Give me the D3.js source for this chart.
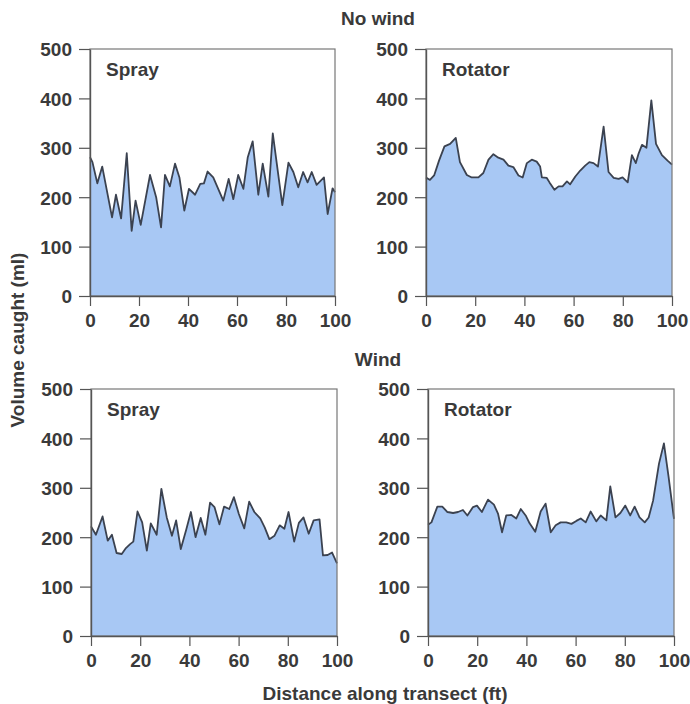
<!DOCTYPE html>
<html>
<head>
<meta charset="utf-8">
<script src="https://cdn.jsdelivr.net/npm/d3@7"></script>
<style>
  body { margin: 0; background: #fff; }
  text { font-family: "Liberation Sans", Arial, sans-serif; font-weight: bold; fill: #3a3a3a; }
</style>
</head>
<body>
<div class="chart"></div>
<script>
// data
const xTicks = [0, 20, 40, 60, 80, 100];
const yTicks = [0, 100, 200, 300, 400, 500];

const sprayNoWindX = [0, 1, 3, 5, 9, 10.6, 12.7, 15, 17, 18.6, 20.7, 24.5, 27, 29, 30.6, 32.6, 34.7, 36.5, 38.5, 40.4, 42.9, 45, 46.5, 48, 50.3, 54.4, 56.6, 58.5, 60.5, 62.6, 64.4, 66.4, 68.7, 70.5, 72.8, 74.6, 78.5, 81, 83, 85, 87, 88.8, 90.5, 92.5, 95.5, 97, 99, 100];
const sprayNoWindY = [281, 271, 228, 262, 159, 205, 157, 289, 132, 193, 144, 245, 200, 139, 245, 222, 268, 240, 173, 217, 205, 227, 228, 252, 240, 193, 237, 196, 245, 217, 281, 313, 205, 268, 201, 329, 184, 270, 251, 220, 251, 230, 251, 225, 240, 166, 218, 210];

const rotatorNoWindX = [0, 1.6, 3.3, 5.3, 7.5, 9.8, 12.1, 13.8, 16.6, 18.6, 21.3, 23.3, 25.4, 27.4, 29.4, 31.5, 33.5, 35.5, 37.6, 39.3, 41, 43, 45, 46.4, 47.1, 49.1, 50.2, 52.2, 53.9, 55.5, 57.3, 58.6, 60.7, 62.7, 64.7, 66.4, 68.1, 69.9, 72.2, 74.2, 76.3, 78.3, 79.9, 82, 83.7, 85.3, 86.4, 87.8, 89.6, 91.6, 93.5, 95.9, 98.2, 100];
const rotatorNoWindY = [240, 235, 244, 274, 303, 308, 320, 271, 245, 240, 240, 249, 276, 287, 280, 276, 264, 261, 244, 240, 269, 276, 272, 262, 240, 239, 230, 215, 222, 222, 232, 226, 242, 254, 264, 271, 269, 262, 343, 251, 239, 237, 240, 230, 285, 269, 288, 306, 300, 396, 308, 285, 274, 266];

const sprayWindX = [0, 2, 4.7, 6.8, 8.5, 10.4, 12.5, 14.2, 15.9, 17.2, 18.9, 20.8, 22.7, 24.3, 26.7, 28.6, 30.8, 32.9, 34.6, 36.5, 38.7, 40.6, 42.5, 44.6, 46.5, 48.4, 50.2, 52.2, 54.1, 56.2, 58.1, 60.1, 62.3, 64.3, 66.4, 68.8, 70.6, 72.5, 74.6, 76.7, 78.6, 80.3, 82.6, 84.5, 86.4, 88.5, 90.5, 92.9, 94.3, 96.2, 98, 100];
const sprayWindY = [222, 205, 242, 193, 205, 168, 166, 178, 186, 191, 252, 230, 173, 228, 205, 298, 240, 203, 234, 176, 215, 251, 200, 239, 205, 270, 261, 226, 262, 257, 281, 247, 218, 272, 251, 238, 220, 196, 203, 224, 217, 251, 191, 229, 240, 207, 234, 236, 163, 164, 169, 147];

const rotatorWindX = [0, 1.4, 3.8, 5.8, 7.9, 10.2, 12.2, 14.2, 16, 18.3, 19.9, 21.9, 24.4, 26.8, 28.5, 30.1, 31.8, 33.9, 35.9, 37.7, 39.7, 41.3, 43.6, 45.8, 47.8, 49.9, 51.9, 53.9, 56.2, 58.3, 60.3, 62.1, 64.1, 66.1, 68.4, 70.2, 72.5, 74.1, 76.2, 78.2, 80.2, 82.2, 84, 86, 88.1, 89.7, 91.5, 93.9, 95.9, 97.8, 100];
const rotatorWindY = [225, 230, 262, 262, 251, 249, 251, 255, 244, 261, 264, 251, 276, 266, 247, 210, 244, 245, 238, 257, 244, 228, 211, 252, 268, 210, 224, 230, 230, 227, 233, 238, 230, 252, 232, 244, 234, 303, 240, 249, 264, 244, 262, 240, 230, 240, 274, 349, 390, 322, 237];

const panels = [
  { label: 'Spray', xs: sprayNoWindX, ys: sprayNoWindY, left: 90, top: 49, w: 245, h: 247 },
  { label: 'Rotator', xs: rotatorNoWindX, ys: rotatorNoWindY, left: 426, top: 49, w: 246, h: 247 },
  { label: 'Spray', xs: sprayWindX, ys: sprayWindY, left: 91, top: 389, w: 246, h: 247 },
  { label: 'Rotator', xs: rotatorWindX, ys: rotatorWindY, left: 428, top: 389, w: 246, h: 247 }
];

const svg = d3.select('.chart')
  .append('svg')
  .attr('width', 690)
  .attr('height', 704);

// group titles
svg.append('text').attr('x', 378).attr('y', 25).attr('text-anchor', 'middle')
  .style('font-size', '19px').text('No wind');
svg.append('text').attr('x', 378).attr('y', 366).attr('text-anchor', 'middle')
  .style('font-size', '19px').text('Wind');

// axis titles
svg.append('text')
  .attr('transform', 'translate(24,340) rotate(-90)')
  .attr('text-anchor', 'middle')
  .style('font-size', '19px')
  .text('Volume caught (ml)');
svg.append('text').attr('x', 385).attr('y', 700).attr('text-anchor', 'middle')
  .style('font-size', '19px').text('Distance along transect (ft)');

const drawPanel = (p) => {
  const g = svg.append('g').attr('transform', `translate(${p.left},${p.top})`);
  const x = d3.scaleLinear().domain([0, 100]).range([0, p.w]);
  const y = d3.scaleLinear().domain([0, 500]).range([p.h, 0]);
  const data = p.xs.map((d, i) => ({ x: d, y: p.ys[i] }));

  const area = d3.area().x(d => x(d.x)).y0(y(0)).y1(d => y(d.y));
  const line = d3.line().x(d => x(d.x)).y(d => y(d.y));

  g.append('path').datum(data).attr('d', area).attr('fill', '#a8c8f4');
  g.append('path').datum(data).attr('d', line)
    .attr('fill', 'none').attr('stroke', '#3b4250').attr('stroke-width', 1.8)
    .attr('stroke-linejoin', 'round');

  // frame
  g.append('rect').attr('width', p.w).attr('height', p.h)
    .attr('fill', 'none').attr('stroke', '#777').attr('stroke-width', 1.2);

  const xAxis = d3.axisBottom(x).tickValues(xTicks).tickSizeInner(10).tickSizeOuter(0).tickPadding(8);
  const yAxis = d3.axisLeft(y).tickValues(yTicks).tickSizeInner(11).tickSizeOuter(0).tickPadding(7);

  const xa = g.append('g').attr('transform', `translate(0,${p.h})`).call(xAxis);
  const ya = g.append('g').call(yAxis);
  [xa, ya].forEach(a => {
    a.select('.domain').attr('stroke', '#555').attr('stroke-width', 1.4);
    a.selectAll('.tick line').attr('stroke', '#555').attr('stroke-width', 1.2);
    a.selectAll('.tick text')
      .style('font-family', '"Liberation Sans", Arial, sans-serif')
      .style('font-weight', 'bold')
      .style('font-size', '19px')
      .attr('fill', '#3a3a3a');
  });
  ya.selectAll('.tick text').attr('dy', '0.36em');

  g.append('text').attr('x', 16).attr('y', 27).style('font-size', '19px').text(p.label);
};

panels.forEach(drawPanel);
</script>
</body>
</html>
